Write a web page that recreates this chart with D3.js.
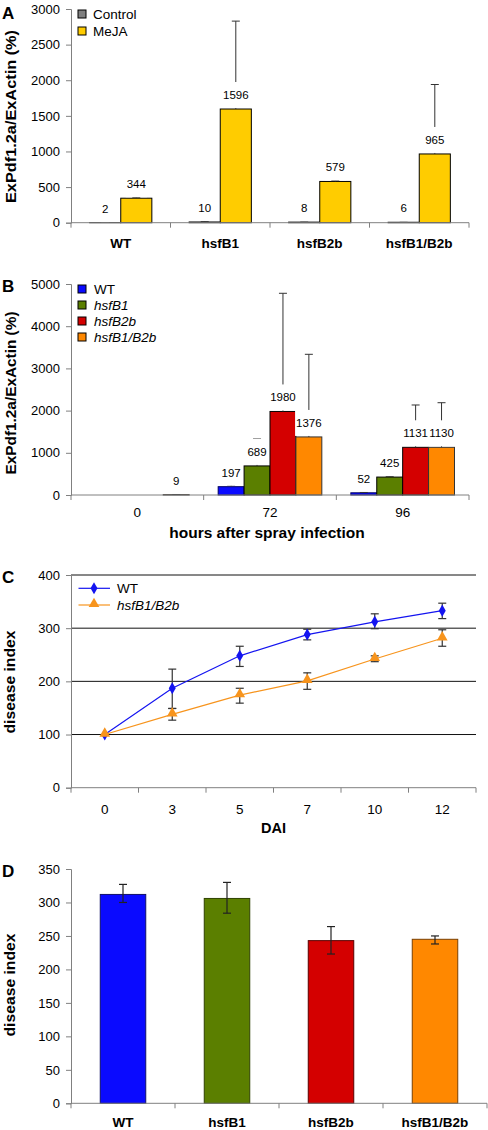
<!DOCTYPE html>
<html><head><meta charset="utf-8">
<script src="https://cdn.jsdelivr.net/npm/d3@7"></script>
<style>
html,body{margin:0;padding:0;background:#fff;}
svg{display:block;font-family:Arial,"Liberation Sans",sans-serif;}
</style></head>
<body>
<svg id="chart" width="488" height="1130"></svg>
<script>
// ---------- Panel A data ----------
const A_categories = ["WT","hsfB1","hsfB2b","hsfB1/B2b"];
const A_series = ["Control","MeJA"];
const A_control = [2,10,8,6];
const A_meja = [344,1596,579,965];
const A_controlErrTop = [3,14,10,8];
const A_mejaErrTop = [356,2830,590,1940];
const A_yTicks = [0,500,1000,1500,2000,2500,3000];

// ---------- Panel B data ----------
const B_categories = ["0","72","96"];
const B_series = ["WT","hsfB1","hsfB2b","hsfB1/B2b"];
const B_WT = [null,197,52];
const B_hsfB1 = [null,689,425];
const B_hsfB2b = [null,1980,1131];
const B_hsfB1B2b = [9,1376,1130];
const B_WT_errTop = [null,235,62];
const B_hsfB1_errTop = [null,1327,440];
const B_hsfB2b_errTop = [null,4780,2133];
const B_hsfB1B2b_errTop = [12,3334,2187];
const B_yTicks = [0,1000,2000,3000,4000,5000];

// ---------- Panel C data ----------
const C_days = ["0","3","5","7","10","12"];
const C_WT = [100,187,248,288,312,333];
const C_WT_lo = [100,149,228,278,299,318];
const C_WT_hi = [100,223,266,298,327,347];
const C_dko = [100,138,174,201,242,281];
const C_dko_lo = [100,127,159,185,237,266];
const C_dko_hi = [100,149,187,216,248,297];
const C_yTicks = [0,100,200,300,400];

// ---------- Panel D data ----------
const D_categories = ["WT","hsfB1","hsfB2b","hsfB1/B2b"];
const D_values = [312,306,243,245];
const D_lo = [300,284,223,238];
const D_hi = [327,330,264,250];
const D_yTicks = [0,50,100,150,200,250,300,350];

// ---------- colours ----------
const gray = "#808080", yellow = "#FFCC00";
const cBlue = "#0A0AFF", cGreen = "#5B7F00", cRed = "#D40000", cOrange = "#FF8800";

const svg = d3.select("#chart");
const FS_TICK = 13, FS_LBL = 11.5;

function yAxis(g, y, ticks, x0) {
  const ax = g.append("g").attr("transform", `translate(${x0},0)`)
    .call(d3.axisLeft(y).tickValues(ticks).tickSize(5).tickPadding(6).tickFormat(d3.format("d")));
  ax.select(".domain").attr("stroke", gray);
  ax.selectAll(".tick line").attr("stroke", gray);
  ax.selectAll("text").attr("font-size", FS_TICK).attr("fill", "#000").attr("font-family", "Arial, 'Liberation Sans', sans-serif");
  return ax;
}
function xBoundaryAxis(g, x, yPos, x0, x1) {
  g.append("line").attr("x1", x0).attr("x2", x1).attr("y1", yPos).attr("y2", yPos).attr("stroke", gray);
  const bounds = x.domain().map(d => x(d) - x.step() * x.paddingInner() / 2);
  bounds.push(x1);
  bounds[0] = x0;
  g.selectAll(null).data(bounds).enter().append("line")
    .attr("x1", d => d).attr("x2", d => d).attr("y1", yPos).attr("y2", yPos + 5).attr("stroke", gray);
}
function yTitle(text, cx, cy, len, fs) {
  svg.append("text").attr("transform", `translate(${cx},${cy}) rotate(-90)`)
    .attr("text-anchor", "middle").attr("font-weight", "bold").attr("font-size", fs)
    .attr("textLength", len).attr("lengthAdjust", "spacingAndGlyphs").text(text);
}
function panelLetter(t, y) {
  svg.append("text").attr("x", 2).attr("y", y).attr("font-weight", "bold").attr("font-size", 17).text(t);
}
function labelWithBg(g, cx, barTop, txt) {
  const t = g.append("text").attr("x", cx).attr("y", barTop - 10).attr("text-anchor", "middle")
    .attr("font-size", FS_LBL).text(txt);
  const w = t.node().getComputedTextLength();
  g.insert("rect", () => t.node()).attr("x", cx - w / 2 - 1).attr("width", w + 2)
    .attr("y", barTop - 27).attr("height", 26).attr("fill", "#fff");
}

// ================= Panel A =================
(function () {
  const g = svg.append("g");
  const x0 = 71, x1 = 469;
  const y = d3.scaleLinear().domain([0, 3000]).range([222.7, 9]);
  const x = d3.scaleBand().domain(A_categories).range([x0, x1]).paddingInner(0).paddingOuter(0);
  const xs = d3.scaleBand().domain(A_series).range([0, x.bandwidth()]).paddingInner(0).paddingOuter(0.6);
  const colors = { Control: gray, MeJA: yellow };
  const vals = { Control: A_control, MeJA: A_meja };
  const errs = { Control: A_controlErrTop, MeJA: A_mejaErrTop };
  A_series.forEach(s => {
    g.selectAll(null).data(A_categories).enter().append("rect")
      .attr("x", d => x(d) + xs(s)).attr("width", xs.bandwidth())
      .attr("y", (d, i) => y(vals[s][i])).attr("height", (d, i) => y(0) - y(vals[s][i]))
      .attr("fill", colors[s]).attr("stroke", "#000").attr("stroke-width", 1);
  });
  const lg = g.append("g");
  A_series.forEach(s => {
    A_categories.forEach((c, i) => {
      const cx = x(c) + xs(s) + xs.bandwidth() / 2;
      const top = y(errs[s][i]), bt = y(vals[s][i]);
      lg.append("line").attr("x1", cx).attr("x2", cx).attr("y1", bt).attr("y2", top).attr("stroke", "#333");
      lg.append("line").attr("x1", cx - 4).attr("x2", cx + 4).attr("y1", top).attr("y2", top).attr("stroke", "#333");
    });
  });
  A_series.forEach(s => {
    A_categories.forEach((c, i) => {
      const cx = x(c) + xs(s) + xs.bandwidth() / 2;
      labelWithBg(lg, cx, y(vals[s][i]), String(vals[s][i]));
    });
  });
  yAxis(g, y, A_yTicks, x0);
  xBoundaryAxis(g, x, 222.7, x0, x1);
  g.selectAll(null).data(A_categories).enter().append("text")
    .attr("x", d => x(d) + x.bandwidth() / 2).attr("y", 248).attr("text-anchor", "middle")
    .attr("font-weight", "bold").attr("font-size", 13.5).text(d => d);
  // legend
  A_series.forEach((s, i) => {
    g.append("rect").attr("x", 78).attr("y", 10 + i * 17).attr("width", 8).attr("height", 8)
      .attr("fill", colors[s]).attr("stroke", "#000");
    g.append("text").attr("x", 93).attr("y", 19 + i * 17).attr("font-size", 13.5).text(s);
  });
  panelLetter("A", 19);
  yTitle("ExPdf1.2a/ExActin (%)", 15.5, 116.5, 173, 15);
})();

// ================= Panel B =================
(function () {
  const g = svg.append("g");
  const x0 = 71, x1 = 469;
  const y = d3.scaleLinear().domain([0, 5000]).range([495, 284]);
  const x = d3.scaleBand().domain(B_categories).range([x0, x1]).paddingInner(0).paddingOuter(0);
  const xs = d3.scaleBand().domain(B_series).range([0, x.bandwidth()]).paddingInner(0).paddingOuter(0.56);
  const colors = [cBlue, cGreen, cRed, cOrange];
  const strokes = ["#000060", "#000", "#000", "#333"];
  const vals = [B_WT, B_hsfB1, B_hsfB2b, B_hsfB1B2b];
  const errs = [B_WT_errTop, B_hsfB1_errTop, B_hsfB2b_errTop, B_hsfB1B2b_errTop];
  B_series.forEach((s, k) => {
    g.selectAll(null).data(B_categories.map((c, i) => ({ c, v: vals[k][i] })).filter(d => d.v != null)).enter().append("rect")
      .attr("x", d => x(d.c) + xs(s)).attr("width", xs.bandwidth())
      .attr("y", d => y(d.v)).attr("height", d => y(0) - y(d.v))
      .attr("fill", colors[k]).attr("stroke", strokes[k]).attr("stroke-width", 1);
  });
  const lg = g.append("g");
  B_series.forEach((s, k) => {
    B_categories.forEach((c, i) => {
      if (vals[k][i] == null) return;
      const cx = x(c) + xs(s) + xs.bandwidth() / 2;
      const top = y(errs[k][i]), bt = y(vals[k][i]);
      lg.append("line").attr("x1", cx).attr("x2", cx).attr("y1", bt).attr("y2", top).attr("stroke", "#333");
      lg.append("line").attr("x1", cx - 4).attr("x2", cx + 4).attr("y1", top).attr("y2", top).attr("stroke", "#333");
    });
  });
  B_series.forEach((s, k) => {
    B_categories.forEach((c, i) => {
      if (vals[k][i] == null) return;
      const cx = x(c) + xs(s) + xs.bandwidth() / 2;
      labelWithBg(lg, cx, y(vals[k][i]), String(vals[k][i]));
    });
  });
  yAxis(g, y, B_yTicks, x0);
  xBoundaryAxis(g, x, 495, x0, x1);
  g.selectAll(null).data(B_categories).enter().append("text")
    .attr("x", d => x(d) + x.bandwidth() / 2).attr("y", 517).attr("text-anchor", "middle")
    .attr("font-size", 13.5).text(d => d);
  g.append("text").attr("x", 267).attr("y", 537.5).attr("text-anchor", "middle")
    .attr("font-weight", "bold").attr("font-size", 15.5).text("hours after spray infection");
  B_series.forEach((s, k) => {
    g.append("rect").attr("x", 78).attr("y", 285 + k * 16).attr("width", 8).attr("height", 8)
      .attr("fill", colors[k]).attr("stroke", "#000");
    g.append("text").attr("x", 94).attr("y", 294 + k * 16).attr("font-size", 13.5)
      .attr("font-style", k === 0 ? "normal" : "italic").text(s);
  });
  panelLetter("B", 292);
  yTitle("ExPdf1.2a/ExActin (%)", 15.5, 393, 163, 15);
})();

// ================= Panel C =================
(function () {
  const g = svg.append("g");
  const x0 = 71, x1 = 476;
  const y = d3.scaleLinear().domain([0, 400]).range([787.7, 575]);
  const x = d3.scaleBand().domain(C_days).range([x0, x1]).paddingInner(0).paddingOuter(0);
  const cx = d => x(d) + x.bandwidth() / 2;
  // gridlines
  g.selectAll(null).data(C_yTicks.filter(t => t > 0)).enter().append("line")
    .attr("x1", x0).attr("x2", x1).attr("y1", d => y(d)).attr("y2", d => y(d))
    .attr("stroke", "#111").attr("stroke-width", 1);
  yAxis(g, y, C_yTicks, x0);
  xBoundaryAxis(g, x, 787.7, x0, x1);
  g.selectAll(null).data(C_days).enter().append("text")
    .attr("x", d => cx(d)).attr("y", 814).attr("text-anchor", "middle")
    .attr("font-size", 13.5).text(d => d);
  g.append("text").attr("x", 273.5).attr("y", 833).attr("text-anchor", "middle")
    .attr("font-weight", "bold").attr("font-size", 14.5).text("DAI");

  const series = [
    { name: "WT", v: C_WT, lo: C_WT_lo, hi: C_WT_hi, color: "#1414F0", mark: "diamond" },
    { name: "hsfB1/B2b", v: C_dko, lo: C_dko_lo, hi: C_dko_hi, color: "#F7941D", mark: "triangle" }
  ];
  const line = d3.line().x((d, i) => cx(C_days[i])).y(d => y(d));
  series.forEach(s => {
    g.append("path").attr("d", line(s.v)).attr("fill", "none").attr("stroke", s.color).attr("stroke-width", 1.2);
  });
  series.forEach(s => {
    C_days.forEach((d, i) => {
      if (s.lo[i] === s.hi[i]) return;
      const xx = cx(d);
      g.append("line").attr("x1", xx).attr("x2", xx).attr("y1", y(s.lo[i])).attr("y2", y(s.hi[i])).attr("stroke", "#333").attr("stroke-width", 1.2);
      [s.lo[i], s.hi[i]].forEach(e => g.append("line").attr("x1", xx - 4).attr("x2", xx + 4)
        .attr("y1", y(e)).attr("y2", y(e)).attr("stroke", "#333").attr("stroke-width", 1.2));
    });
  });
  const sym = { diamond: d3.symbol().type(d3.symbolDiamond).size(42), triangle: d3.symbol().type(d3.symbolTriangle).size(50) };
  series.forEach(s => {
    g.selectAll(null).data(s.v).enter().append("path")
      .attr("transform", (d, i) => `translate(${cx(C_days[i])},${y(d) + (s.mark === "triangle" ? -1 : 0)})`)
      .attr("d", sym[s.mark]()).attr("fill", s.color);
  });
  // legend
  series.forEach((s, k) => {
    const ly = 588.3 + k * 16.7;
    g.append("line").attr("x1", 78.5).attr("x2", 110).attr("y1", ly).attr("y2", ly).attr("stroke", s.color).attr("stroke-width", 1.2);
    g.append("path").attr("transform", `translate(94,${ly + (s.mark === "triangle" ? -1 : 0)})`).attr("d", sym[s.mark]()).attr("fill", s.color);
    g.append("text").attr("x", 117).attr("y", ly + 5).attr("font-size", 13.5)
      .attr("font-style", k === 0 ? "normal" : "italic").text(s.name);
  });
  panelLetter("C", 583);
  yTitle("disease index", 15, 682, 103, 15.5);
})();

// ================= Panel D =================
(function () {
  const g = svg.append("g");
  const x0 = 71, x1 = 487;
  const y = d3.scaleLinear().domain([0, 350]).range([1103.3, 869]);
  const x = d3.scaleBand().domain(D_categories).range([x0, x1]).paddingInner(0.5625).paddingOuter(0.28125);
  const colors = [cBlue, cGreen, cRed, cOrange];
  const strokes = ["#10106a", "#2f4200", "#5a0000", "#7a4000"];
  g.selectAll(null).data(D_categories).enter().append("rect")
    .attr("x", d => x(d)).attr("width", x.bandwidth())
    .attr("y", (d, i) => y(D_values[i])).attr("height", (d, i) => y(0) - y(D_values[i]))
    .attr("fill", (d, i) => colors[i]).attr("stroke", (d, i) => strokes[i]).attr("stroke-width", 1);
  D_categories.forEach((c, i) => {
    const xx = x(c) + x.bandwidth() / 2;
    g.append("line").attr("x1", xx).attr("x2", xx).attr("y1", y(D_lo[i])).attr("y2", y(D_hi[i])).attr("stroke", "#222").attr("stroke-width", 1.2);
    [D_lo[i], D_hi[i]].forEach(e => g.append("line").attr("x1", xx - 4).attr("x2", xx + 4)
      .attr("y1", y(e)).attr("y2", y(e)).attr("stroke", "#222").attr("stroke-width", 1.2));
  });
  yAxis(g, y, D_yTicks, x0);
  // bottom axis with category boundaries
  g.append("line").attr("x1", x0).attr("x2", x1).attr("y1", y(0)).attr("y2", y(0)).attr("stroke", gray);
  const step = x.step();
  const bounds = D_categories.map((c, i) => x0 + i * step * 0 + (x(c) - x.bandwidth() / 2 - (step - x.bandwidth()) / 2 + x.bandwidth() / 2));
  const bnd = [x0].concat(D_categories.map(c => x(c) + x.bandwidth() / 2 + step / 2));
  g.selectAll(null).data(bnd).enter().append("line")
    .attr("x1", d => d).attr("x2", d => d).attr("y1", y(0)).attr("y2", y(0) + 5).attr("stroke", gray);
  g.selectAll(null).data(D_categories).enter().append("text")
    .attr("x", d => x(d) + x.bandwidth() / 2).attr("y", 1127).attr("text-anchor", "middle")
    .attr("font-weight", "bold").attr("font-size", 13.5).text(d => d);
  panelLetter("D", 877);
  yTitle("disease index", 15, 985, 103, 15.5);
})();
</script>
</body></html>
